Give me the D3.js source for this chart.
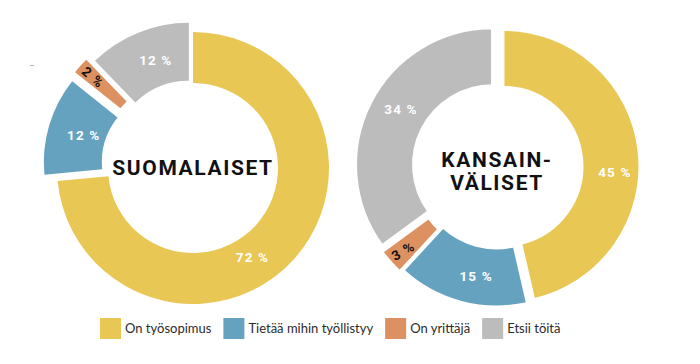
<!DOCTYPE html>
<html>
<head>
<meta charset="utf-8">
<script src="https://cdn.jsdelivr.net/npm/d3@7"></script>
<style>
  body { margin: 0; background: #fff; }
  svg { display: block; }
  .value-label { font-family: Roboto, sans-serif; font-weight: 700; font-size: 13.5px; letter-spacing: 1.1px; }
  .title { font-family: Roboto, sans-serif; font-weight: 700; font-size: 21px; letter-spacing: 1.6px; fill: #111; }
  .legend text { font-family: Lato, sans-serif; font-size: 13px; fill: #2b2b2b; }
</style>
</head>
<body>
<svg id="chart" width="700" height="364"></svg>
<script>
// Data
const categories = ['On työsopimus', 'Tietää mihin työllistyy', 'On yrittäjä', 'Etsii töitä'];
const suomalaisetValues = [72, 12, 2, 12];
const kansainvalisetValues = [45, 15, 3, 34];
const suomalaisetTitle = ['SUOMALAISET'];
const kansainvalisetTitle = ['KANSAIN-', 'VÄLISET'];

const colors = ['#e8c755', '#65a2c0', '#dd9160', '#bcbcbc'];

// Per chart layout (explode / radii per slice, label placement)
const charts = [
    {
        values: suomalaisetValues, title: suomalaisetTitle,
        cx: 193, cy: 168, titleDy: -1, gap: 0,
        explode: [0, 20, 22, 11],
        inner: [85, 72, 72, 77],
        outer: [136, 130, 130, 135],
        labelR: [107, 114, 135, 114],
        labelShift: [14, 0, 0, 3],
        labelRotate: [0, 0, 42, 0]
    },
    {
        values: kansainvalisetValues, title: kansainvalisetTitle,
        cx: 497, cy: 167, titleDy: 4, gap: 3,
        explode: [6, 2, 5, 5],
        inner: [79, 79, 80, 79],
        outer: [137, 138, 138, 137],
        labelR: [118, 111, 126, 112],
        labelShift: [9, -4, 0, 4],
        labelRotate: [0, 0, -30, 0]
    }
];

const svg = d3.select('#chart');
const toRad = Math.PI / 180;

const pie = d3.pie().sort(null).value(d => d);

charts.forEach(cfg => {
    const g = svg.append('g')
        .attr('transform', `translate(${cfg.cx},${cfg.cy})`);

    const arcs = pie(cfg.values);

    arcs.forEach((d, i) => {
        const mid = (d.startAngle + d.endAngle) / 2;
        const ox = cfg.explode[i] * Math.sin(mid);
        const oy = -cfg.explode[i] * Math.cos(mid);

        const arc = d3.arc()
            .innerRadius(cfg.inner[i])
            .outerRadius(cfg.outer[i]);

        const path = g.append('path')
            .attr('transform', `translate(${ox},${oy})`)
            .attr('d', arc(d))
            .attr('fill', colors[i]);
        if (cfg.gap) {
            path.attr('stroke', '#fff').attr('stroke-width', cfg.gap).attr('stroke-linejoin', 'miter');
        }
    });

    // Value labels
    arcs.forEach((d, i) => {
        const mid = (d.startAngle + d.endAngle) / 2 + cfg.labelShift[i] * toRad;
        const x = cfg.labelR[i] * Math.sin(mid);
        const y = -cfg.labelR[i] * Math.cos(mid);
        g.append('text')
            .attr('class', 'value-label')
            .attr('text-anchor', 'middle')
            .attr('dy', '0.36em')
            .attr('transform', `translate(${x},${y}) rotate(${cfg.labelRotate[i]})`)
            .attr('fill', cfg.labelRotate[i] ? '#111' : '#fff')
            .text(d.data + ' %');
    });

    // Center title
    const lineH = 23;
    cfg.title.forEach((t, j) => {
        g.append('text')
            .attr('class', 'title')
            .attr('text-anchor', 'middle')
            .attr('y', cfg.titleDy + (j - (cfg.title.length - 1) / 2) * lineH)
            .attr('dy', '0.36em')
            .text(t);
    });
});

// stray dash from the original
svg.append('text')
    .attr('x', 29).attr('y', 69)
    .style('font-family', 'Roboto, sans-serif')
    .style('font-size', '9px')
    .attr('fill', '#999')
    .text('–');

// Legend
const legend = svg.append('g')
    .attr('class', 'legend')
    .attr('transform', 'translate(100,318)');

let lx = 0;
categories.forEach((c, i) => {
    const item = legend.append('g').attr('transform', `translate(${lx},0)`);
    item.append('rect')
        .attr('width', 21).attr('height', 21)
        .attr('fill', colors[i]);
    const txt = item.append('text')
        .attr('x', 25).attr('y', 10.5)
        .attr('dy', '0.35em')
        .text(c);
    lx += 25 + txt.node().getComputedTextLength() + 12;
});
</script>
</body>
</html>
